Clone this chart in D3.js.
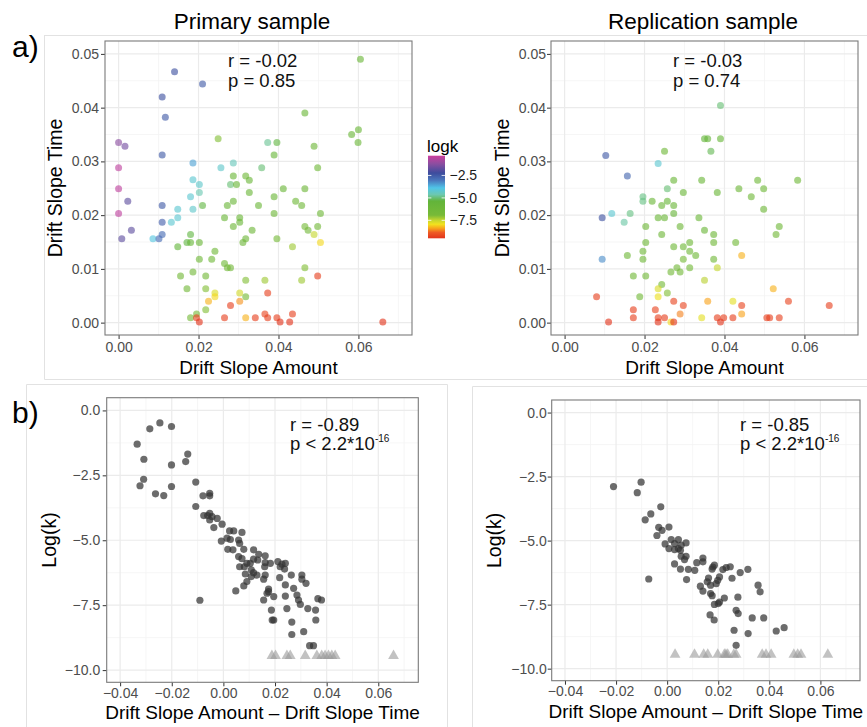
<!DOCTYPE html>
<html lang="en">
<head>
<meta charset="UTF-8">
<title>Drift slopes and logk</title>
<script src="https://d3js.org/d3.v7.min.js"></script>
<style>
  body { margin: 0; background: #fff; }
  svg { display: block; font-family: "Liberation Sans", Arial, Helvetica, sans-serif; }
</style>
</head>
<body>
<svg id="fig"></svg>
<script>
const W = 867, H = 727;

// ==== a) Primary sample: drift slope amount vs time, coloured by logk ====
const primAmount = [0.0605,0.014,0.021,0.0109,0.0117,0.0466,0.0249,0.0,0.0016,0.0373,
  0.0396,0.0583,0.06,0.0599,0.0109,0.0389,0.0489,0.0,0.0186,0.0256,
  0.0287,0.0358,0.0498,0.0287,0.0318,0.0327,0.0186,0.0202,0.028,0.0295,
  0.0,0.0412,0.0466,0.0202,0.0327,0.0023,0.018,0.0287,0.0389,0.0443,
  0.0109,0.021,0.0272,0.035,0.0458,0.0,0.0148,0.0186,0.0389,0.0505,
  0.0148,0.0132,0.0109,0.0265,0.0303,0.0303,0.0032,0.0287,0.0334,0.0466,
  0.0474,0.0498,0.0008,0.0086,0.0101,0.0109,0.018,0.0171,0.018,0.0202,
  0.0148,0.0318,0.0311,0.0396,0.0489,0.0505,0.0435,0.0241,0.0202,0.0233,
  0.0265,0.0272,0.028,0.0466,0.0155,0.0186,0.0218,0.0498,0.0318,0.0366,
  0.0458,0.0171,0.0218,0.0241,0.0303,0.0373,0.0241,0.0318,0.0225,0.0303,
  0.028,0.0218,0.0195,0.018,0.0195,0.0202,0.0265,0.0318,0.0342,0.0366,
  0.0373,0.0396,0.0404,0.0428,0.0435,0.0661];
const primTime = [0.049,0.0467,0.0444,0.042,0.0382,0.039,0.0342,0.0335,0.0328,0.0335,
  0.0335,0.035,0.0359,0.0335,0.0312,0.0312,0.0328,0.0288,0.0297,0.0288,
  0.0297,0.0288,0.0288,0.0273,0.0273,0.0265,0.0266,0.0257,0.0257,0.0257,
  0.0249,0.0249,0.0249,0.0242,0.0242,0.0226,0.0234,0.0226,0.0234,0.0226,
  0.0218,0.0218,0.0218,0.0218,0.0218,0.0203,0.0211,0.0211,0.0203,0.0203,
  0.0195,0.0187,0.0187,0.0195,0.0195,0.0187,0.0172,0.0179,0.0172,0.0179,
  0.0172,0.0179,0.0156,0.0156,0.0156,0.0164,0.0164,0.0149,0.0149,0.0149,
  0.0141,0.0156,0.0149,0.0156,0.0164,0.0149,0.0141,0.0133,0.0118,0.0118,
  0.011,0.0102,0.0102,0.0102,0.0087,0.0094,0.0087,0.0087,0.0079,0.0079,
  0.0079,0.0063,0.0063,0.0055,0.0055,0.0055,0.0048,0.0048,0.004,0.004,
  0.0032,0.0024,0.0016,0.0009,0.0009,0.0001,0.0009,0.0009,0.0009,0.0016,
  0.0009,0.0009,0.0001,0.0001,0.0016,0.0001];
const primLogk = [-6.0,-2.3,-2.5,-2.3,-2.5,-6.0,-7.0,-1.2,-1.5,-4.8,
  -5.3,-6.0,-6.0,-6.0,-2.5,-5.8,-6.2,-0.5,-3.5,-4.3,
  -4.5,-5.0,-6.3,-6.0,-6.3,-6.0,-4.2,-4.3,-5.0,-6.0,
  -0.5,-6.0,-6.2,-4.6,-6.0,-1.8,-4.2,-6.0,-6.0,-6.3,
  -2.5,-5.3,-6.0,-6.0,-6.3,-0.5,-4.2,-4.3,-6.2,-6.3,
  -4.2,-4.2,-2.6,-6.0,-6.0,-6.0,-1.8,-6.2,-6.2,-6.8,
  -6.5,-6.5,-1.8,-4.0,-2.8,-2.8,-5.3,-5.3,-5.8,-6.0,
  -5.4,-6.2,-6.2,-6.8,-7.5,-8.0,-7.2,-6.3,-6.3,-6.3,
  -6.3,-6.5,-6.5,-7.0,-6.5,-6.5,-6.5,-9.3,-7.0,-7.2,
  -7.2,-6.5,-7.0,-7.7,-7.6,-9.3,-8.0,-6.8,-8.3,-8.5,
  -9.3,-7.0,-6.8,-6.8,-9.3,-9.5,-9.3,-8.3,-9.3,-9.2,
  -9.3,-9.3,-9.5,-9.5,-9.3,-9.5];

// ==== a) Replication sample ====
const replAmount = [0.039,0.035,0.0358,0.039,0.025,0.0366,0.0103,0.0234,0.0157,0.0273,
  0.0343,0.0483,0.0583,0.0257,0.0297,0.0382,0.0436,0.0498,0.0467,0.0196,
  0.0196,0.0219,0.0257,0.0243,0.0273,0.0273,0.0498,0.0094,0.0118,0.0164,
  0.0149,0.0234,0.025,0.0336,0.0203,0.0289,0.035,0.0373,0.0537,0.0529,
  0.0243,0.0203,0.0313,0.0373,0.0428,0.0273,0.0297,0.0313,0.0328,0.0196,
  0.0157,0.0094,0.0196,0.0297,0.0373,0.0443,0.0281,0.0289,0.0266,0.0313,
  0.0382,0.0172,0.0203,0.035,0.0243,0.0234,0.0522,0.0257,0.0188,0.0234,
  0.008,0.0273,0.0358,0.0421,0.056,0.0297,0.0443,0.0662,0.0172,0.0227,
  0.0289,0.0443,0.0172,0.0234,0.025,0.0343,0.0382,0.0398,0.0421,0.0506,
  0.0513,0.0537,0.011,0.0234,0.0266,0.0273,0.039];
const replTime = [0.0404,0.0342,0.0342,0.0342,0.0319,0.0319,0.0311,0.0296,0.0273,0.0265,
  0.0265,0.0265,0.0265,0.0249,0.0242,0.0242,0.0249,0.0249,0.0234,0.0234,
  0.0226,0.0226,0.0226,0.0218,0.0218,0.0203,0.0211,0.0195,0.0203,0.0203,
  0.0187,0.0195,0.0195,0.0195,0.0179,0.0179,0.0172,0.0164,0.0179,0.0164,
  0.0164,0.0149,0.0149,0.0149,0.0149,0.0141,0.0141,0.0133,0.0125,0.0133,
  0.0125,0.0118,0.0118,0.0118,0.0118,0.0125,0.0102,0.0094,0.0094,0.0102,
  0.0102,0.0087,0.0087,0.0079,0.0071,0.0063,0.0063,0.0055,0.0048,0.0048,
  0.0048,0.004,0.004,0.004,0.004,0.0032,0.0032,0.0032,0.0024,0.0024,
  0.0016,0.0016,0.0009,0.0009,0.0009,0.0009,0.0009,0.0009,0.0009,0.0009,
  0.0009,0.0009,0.0001,0.0001,0.0001,0.0001,0.0001];
const replLogk = [-5.0,-5.5,-5.6,-5.8,-6.3,-5.2,-2.5,-4.2,-2.7,-6.0,
  -6.0,-6.3,-6.3,-5.0,-6.0,-6.0,-6.2,-6.3,-6.3,-4.9,
  -4.9,-6.0,-5.8,-6.0,-6.0,-5.7,-6.2,-2.3,-4.2,-4.9,
  -4.7,-6.0,-6.0,-6.0,-6.2,-6.2,-6.0,-6.2,-6.3,-6.5,
  -6.2,-6.3,-6.3,-6.4,-6.6,-6.3,-6.3,-6.3,-6.3,-6.3,
  -6.3,-3.3,-6.3,-6.8,-6.4,-8.3,-6.5,-6.5,-6.5,-6.6,
  -7.5,-6.4,-6.4,-7.4,-6.7,-7.7,-8.3,-7.0,-6.6,-7.9,
  -9.3,-9.2,-8.4,-7.8,-9.2,-9.2,-9.2,-9.3,-9.3,-9.2,
  -8.6,-8.4,-9.3,-9.3,-9.3,-7.8,-9.3,-9.3,-9.3,-9.3,
  -9.3,-9.3,-9.5,-9.5,-8.0,-9.5,-9.5];

// ==== b) log(k) vs amount - time ====
const primDiff = [-0.0334,-0.0285,-0.0246,-0.0201,-0.0308,-0.0309,-0.0323,-0.0263,-0.0231,-0.0201,
  -0.0201,-0.0146,-0.0138,-0.0107,-0.0107,-0.0079,-0.0053,-0.0053,-0.0091,
  -0.0076,-0.0061,-0.0053,-0.0044,-0.0053,-0.0024,-0.0005,-0.0037,0.0024,0.0040,0.0072,
  0.0014,-0.0008,0.0027,0.0059,0.0063,0.0017,0.0037,0.0079,0.0059,0.0072,0.0117,0.0137,0.0162,
  0.0104,0.0117,0.0133,0.0091,0.0081,0.0063,
  0.0162,0.0160,0.0182,0.0211,0.0227,0.0240,0.0220,0.0237,
  0.0085,0.0108,0.0117,0.0130,0.0108,0.0162,0.0156,0.0091,0.0079,0.0048,
  0.0218,0.0263,0.0304,0.0304,0.0320,0.0240,0.0272,
  0.0175,0.0175,0.0169,0.0195,0.0156,0.0240,0.0285,0.0291,0.0298,0.0327,0.0366,0.0380,
  0.0186,0.0246,0.0357,
  0.0189,0.0195,0.0265,0.0358,
  0.0265,0.0311,
  0.0334,0.0349];
const primDiffLogk = [-1.30,-0.71,-0.48,-0.62,-1.88,-2.65,-2.90,-3.21,-3.28,-2.10,
  -2.93,-1.97,-1.68,-2.76,-3.70,-3.29,-3.19,-3.29,-7.31,
  -4.05,-4.05,-3.96,-4.09,-4.22,-4.16,-4.38,-4.51,-4.64,-4.64,-4.70,
  -4.92,-5.03,-4.97,-4.99,-5.12,-5.35,-5.37,-5.35,-5.63,-5.71,-5.37,-5.54,-5.60,
  -5.89,-5.73,-5.76,-5.89,-6.02,-6.02,
  -5.86,-6.02,-5.89,-5.82,-5.92,-5.89,-6.02,-6.11,
  -6.30,-6.14,-6.25,-6.34,-6.40,-6.34,-6.50,-6.59,-6.76,-6.95,
  -6.44,-6.34,-6.34,-6.50,-6.66,-6.72,-6.85,
  -6.88,-6.98,-7.04,-7.17,-7.30,-7.15,-7.11,-7.30,-7.47,-7.63,-7.25,-7.30,
  -7.69,-7.63,-7.69,
  -8.07,-8.07,-8.15,-8.07,
  -8.63,-8.52,
  -9.06,-9.06];
const primMissing = [0.0188,0.0202,0.0246,0.0259,0.0317,0.0362,0.0381,0.0394,0.0407,0.0420,0.0433,0.0659];

const replDiff = [-0.0210,-0.0102,-0.0117,-0.0025,-0.0064,-0.0086,-0.0033,-0.0040,-0.0008,-0.0072,
  -0.0020,0.0007,0.0007,0.0016,0.0029,0.0044,0.0044,0.0055,0.0074,0.0029,0.0052,
  0.0055,0.0068,0.0074,0.0029,0.0052,0.0083,0.0108,0.0116,0.0140,0.0140,0.0076,
  0.0179,0.0185,0.0176,0.0218,0.0231,0.0247,0.0254,0.0286,0.0316,
  0.0162,0.0157,0.0170,0.0192,0.0205,0.0198,0.0130,0.0140,
  0.0170,0.0176,0.0205,0.0224,0.0185,0.0200,
  0.0277,0.0270,0.0278,0.0356,0.0364,0.0333,0.0378,
  0.0168,0.0184,0.0262,0.0317,0.0270,0.0427,0.0458];
const replDiffLogk = [-2.89,-2.72,-3.13,-3.68,-3.96,-4.19,-4.48,-4.80,-5.13,-6.50,
  -4.60,-4.47,-5.31,-4.96,-5.12,-4.96,-5.31,-5.18,-5.09,-5.35,-5.38,
  -5.61,-5.74,-5.61,-5.91,-6.11,-6.12,-6.16,-5.86,-5.68,-5.83,-6.52,
  -6.03,-5.96,-6.11,-6.13,-6.05,-6.02,-6.47,-6.25,-6.12,
  -6.46,-6.61,-6.74,-6.68,-6.42,-6.55,-6.78,-6.97,
  -7.07,-7.15,-7.40,-7.24,-7.49,-7.46,
  -7.21,-7.72,-7.85,-6.74,-7.00,-8.02,-8.02,
  -7.90,-8.10,-8.50,-8.63,-9.09,-8.53,-8.40];
const replMissing = [0.0031,0.0107,0.0143,0.0159,0.0198,0.0224,0.0230,0.0237,0.0261,0.0270,
  0.0372,0.0387,0.0407,0.0496,0.0511,0.0524,0.0629];
const missingLevel = -9.45;

// ticks
const slopeTicks = [0, 0.02, 0.04, 0.06];
const timeTicks = [0, 0.01, 0.02, 0.03, 0.04, 0.05];
const diffTicks = [-0.04, -0.02, 0, 0.02, 0.04, 0.06];
const logkTicks = [0, -2.5, -5, -7.5, -10];
const legendTicks = [-2.5, -5, -7.5];

// rainbow-like logk palette (position along bar: 0 = top/high logk, 1 = bottom)
const logkRange = [-0.3, -9.5];
const paletteStops = [0, 0.1, 0.21, 0.3, 0.39, 0.47, 0.55, 0.72, 0.78, 0.83, 0.88, 0.93, 1];
const paletteColors = ["#cc3f9e", "#8a4ea0", "#3d4c9d", "#4a78bd", "#50c5e8", "#6cc8b0",
  "#62b43a", "#78ba38", "#c3d52f", "#f2e21e", "#f8a41c", "#ee5a24", "#e2341c"];
const stopValue = d3.scaleLinear().domain([0, 1]).range(logkRange);
const colour = d3.scaleLinear()
  .domain(paletteStops.map(stopValue))
  .range(paletteColors)
  .clamp(true);

const svg = d3.select("#fig").attr("width", W).attr("height", H);

// light frames from the composed figure
const frame = svg.append("g").attr("fill", "none").attr("stroke", "#e2e2e2").attr("stroke-width", 1);
frame.append("path").attr("d", "M44,35.5H867M44.5,35V379.5H867");
frame.append("path").attr("d", "M26.5,727V384.5H447.5V727");
frame.append("path").attr("d", "M472.5,727V386.5H867");

function panel(o) {
  const x = d3.scaleLinear().domain(o.xDomain).range([o.x0, o.x1]);
  const y = d3.scaleLinear().domain(o.yDomain).range([o.y1, o.y0]);
  const g = svg.append("g");

  // grid (minor then major)
  const grid = g.append("g").attr("fill", "none");
  const xMinor = o.xTicks.map(d => d + o.xStep / 2).concat([o.xTicks[0] - o.xStep / 2])
    .filter(d => d > o.xDomain[0] && d < o.xDomain[1]);
  const yMinor = o.yTicks.map(d => d + o.yStep / 2).concat([o.yTicks[0] - o.yStep / 2])
    .filter(d => d > Math.min(...o.yDomain) && d < Math.max(...o.yDomain));
  grid.selectAll(".vx").data(xMinor).join("line")
    .attr("x1", d => x(d)).attr("x2", d => x(d)).attr("y1", o.y0).attr("y2", o.y1)
    .attr("stroke", "#f4f4f4").attr("stroke-width", 0.8);
  grid.selectAll(".hy").data(yMinor).join("line")
    .attr("y1", d => y(d)).attr("y2", d => y(d)).attr("x1", o.x0).attr("x2", o.x1)
    .attr("stroke", "#f4f4f4").attr("stroke-width", 0.8);
  grid.selectAll(".vX").data(o.xTicks).join("line")
    .attr("x1", d => x(d)).attr("x2", d => x(d)).attr("y1", o.y0).attr("y2", o.y1)
    .attr("stroke", "#ebebeb").attr("stroke-width", 1.2);
  grid.selectAll(".hY").data(o.yTicks).join("line")
    .attr("y1", d => y(d)).attr("y2", d => y(d)).attr("x1", o.x0).attr("x2", o.x1)
    .attr("stroke", "#ebebeb").attr("stroke-width", 1.2);

  // axes
  const xAxis = g.append("g").attr("transform", `translate(0,${o.y1})`)
    .call(d3.axisBottom(x).tickValues(o.xTicks).tickFormat(o.xFormat)
      .tickSizeInner(4).tickSizeOuter(0).tickPadding(o.xPad));
  const yAxis = g.append("g").attr("transform", `translate(${o.x0},0)`)
    .call(d3.axisLeft(y).tickValues(o.yTicks).tickFormat(o.yFormat)
      .tickSizeInner(4).tickSizeOuter(0).tickPadding(o.yPad));
  [xAxis, yAxis].forEach(a => {
    a.select(".domain").remove();
    a.attr("font-family", null).attr("font-size", 14);
    a.selectAll("line").attr("stroke", "#333");
    a.selectAll("text").attr("fill", "#4d4d4d");
  });

  // marks
  o.draw(g, x, y);

  // panel border
  g.append("rect").attr("x", o.x0).attr("y", o.y0)
    .attr("width", o.x1 - o.x0).attr("height", o.y1 - o.y0)
    .attr("fill", "none").attr("stroke", "#7a7a7a").attr("stroke-width", 1.1);

  // axis titles
  g.append("text").attr("x", (o.x0 + o.x1) / 2).attr("y", o.xTitleY)
    .attr("text-anchor", "middle").attr("font-size", 19).attr("fill", "#000")
    .text(o.xTitle);
  g.append("text")
    .attr("transform", `translate(${o.yTitleX},${(o.y0 + o.y1) / 2}) rotate(-90)`)
    .attr("text-anchor", "middle").attr("font-size", 19.5).attr("fill", "#000")
    .text(o.yTitle);

  // correlation annotation
  const ann = g.append("text").attr("font-size", 18.5).attr("fill", "#111");
  ann.append("tspan").attr("x", o.annX).attr("y", o.annY).text(o.ann[0]);
  ann.append("tspan").attr("x", o.annX).attr("y", o.annY + 19.5).text(o.ann[1]);
  if (o.ann[2]) {
    ann.append("tspan").attr("font-size", 10).attr("dy", -8).text(o.ann[2]);
  }
}

const f2 = d3.format(".2f");
const f1 = d3.format(".1f");

function colouredDots(amount, time, logk) {
  return (g, x, y) => {
    g.append("g").selectAll("circle").data(amount.map((d, i) => i)).join("circle")
      .attr("cx", i => x(amount[i])).attr("cy", i => y(time[i])).attr("r", 3.5)
      .attr("fill", i => colour(logk[i])).attr("fill-opacity", 0.62);
  };
}

function greyDots(diff, logk, missing) {
  return (g, x, y) => {
    g.append("g").selectAll("circle").data(diff.map((d, i) => i)).join("circle")
      .attr("cx", i => x(diff[i])).attr("cy", i => y(logk[i])).attr("r", 3.6)
      .attr("fill", "#333").attr("fill-opacity", 0.72);
    const tri = d3.symbol(d3.symbolTriangle, 50);
    g.append("g").selectAll("path").data(missing).join("path")
      .attr("d", tri)
      .attr("transform", d => `translate(${x(d)},${y(missingLevel)})`)
      .attr("fill", "#9a9a9a").attr("fill-opacity", 0.6);
  };
}

const slopeDomainX = [-0.0034, 0.0734];
const slopeDomainY = [-0.0023, 0.0524];
const diffDomainX = [-0.0452, 0.0755];
const diffDomainY = [-10.47, 0.49];

panel({
  x0: 105, x1: 412, y0: 41, y1: 335,
  xDomain: slopeDomainX, yDomain: slopeDomainY,
  xTicks: slopeTicks, yTicks: timeTicks, xStep: 0.02, yStep: 0.01,
  xFormat: f2, yFormat: f2, xPad: 3, yPad: 2,
  xTitle: "Drift Slope Amount", yTitle: "Drift Slope Time",
  xTitleY: 374, yTitleX: 62,
  annX: 228, annY: 67, ann: ["r = -0.02", "p = 0.85"],
  draw: colouredDots(primAmount, primTime, primLogk)
});
panel({
  x0: 551, x1: 858, y0: 41, y1: 335,
  xDomain: slopeDomainX, yDomain: slopeDomainY,
  xTicks: slopeTicks, yTicks: timeTicks, xStep: 0.02, yStep: 0.01,
  xFormat: f2, yFormat: f2, xPad: 3, yPad: 1,
  xTitle: "Drift Slope Amount", yTitle: "Drift Slope Time",
  xTitleY: 374, yTitleX: 508.5,
  annX: 673, annY: 67, ann: ["r = -0.03", "p = 0.74"],
  draw: colouredDots(replAmount, replTime, replLogk)
});
panel({
  x0: 106.7, x1: 418.3, y0: 397.7, y1: 682.3,
  xDomain: diffDomainX, yDomain: diffDomainY,
  xTicks: diffTicks, yTicks: logkTicks, xStep: 0.02, yStep: -2.5,
  xFormat: f2, yFormat: f1, xPad: 1.5, yPad: 2.5,
  xTitle: "Drift Slope Amount \u2013 Drift Slope Time", yTitle: "Log(k)",
  xTitleY: 719, yTitleX: 55.5,
  annX: 290, annY: 430.5, ann: ["r = -0.89", "p < 2.2*10", "-16"],
  draw: greyDots(primDiff, primDiffLogk, primMissing)
});
panel({
  x0: 551.7, x1: 860, y0: 400, y1: 680.7,
  xDomain: diffDomainX, yDomain: diffDomainY,
  xTicks: diffTicks, yTicks: logkTicks, xStep: 0.02, yStep: -2.5,
  xFormat: f2, yFormat: f1, xPad: 1.5, yPad: 1,
  xTitle: "Drift Slope Amount \u2013 Drift Slope Time", yTitle: "Log(k)",
  xTitleY: 718, yTitleX: 500.5,
  annX: 740, annY: 430.5, ann: ["r = -0.85", "p < 2.2*10", "-16"],
  draw: greyDots(replDiff, replDiffLogk, replMissing)
});

// column titles and panel letters
svg.append("text").attr("x", 252).attr("y", 29).attr("text-anchor", "middle")
  .attr("font-size", 22.5).text("Primary sample");
svg.append("text").attr("x", 703).attr("y", 29).attr("text-anchor", "middle")
  .attr("font-size", 22.5).text("Replication sample");
svg.append("text").attr("x", 12).attr("y", 57).attr("font-size", 30).text("a)");
svg.append("text").attr("x", 12).attr("y", 423).attr("font-size", 30).text("b)");

// colour legend
const legY = d3.scaleLinear().domain(logkRange).range([155.7, 238.3]);
const defs = svg.append("defs");
const grad = defs.append("linearGradient").attr("id", "logkGrad")
  .attr("x1", 0).attr("y1", 0).attr("x2", 0).attr("y2", 1);
grad.selectAll("stop").data(paletteStops).join("stop")
  .attr("offset", d => d).attr("stop-color", (d, i) => paletteColors[i]);
const leg = svg.append("g");
leg.append("text").attr("x", 427).attr("y", 152).attr("font-size", 17).text("logk");
leg.append("rect").attr("x", 428).attr("y", legY(logkRange[0]))
  .attr("width", 17).attr("height", legY(logkRange[1]) - legY(logkRange[0]))
  .attr("fill", "url(#logkGrad)");
leg.selectAll(".tk").data(legendTicks).join("path")
  .attr("d", d => `M428,${legY(d)}h3.4M441.6,${legY(d)}h3.4`)
  .attr("stroke", "#fff").attr("stroke-width", 0.8);
leg.selectAll(".lb").data(legendTicks).join("text")
  .attr("x", 449.5).attr("y", d => legY(d)).attr("dy", "0.35em")
  .attr("font-size", 14).attr("fill", "#1a1a1a")
  .text(d => f1(d).replace("-", "\u2212"));
</script>
</body>
</html>
